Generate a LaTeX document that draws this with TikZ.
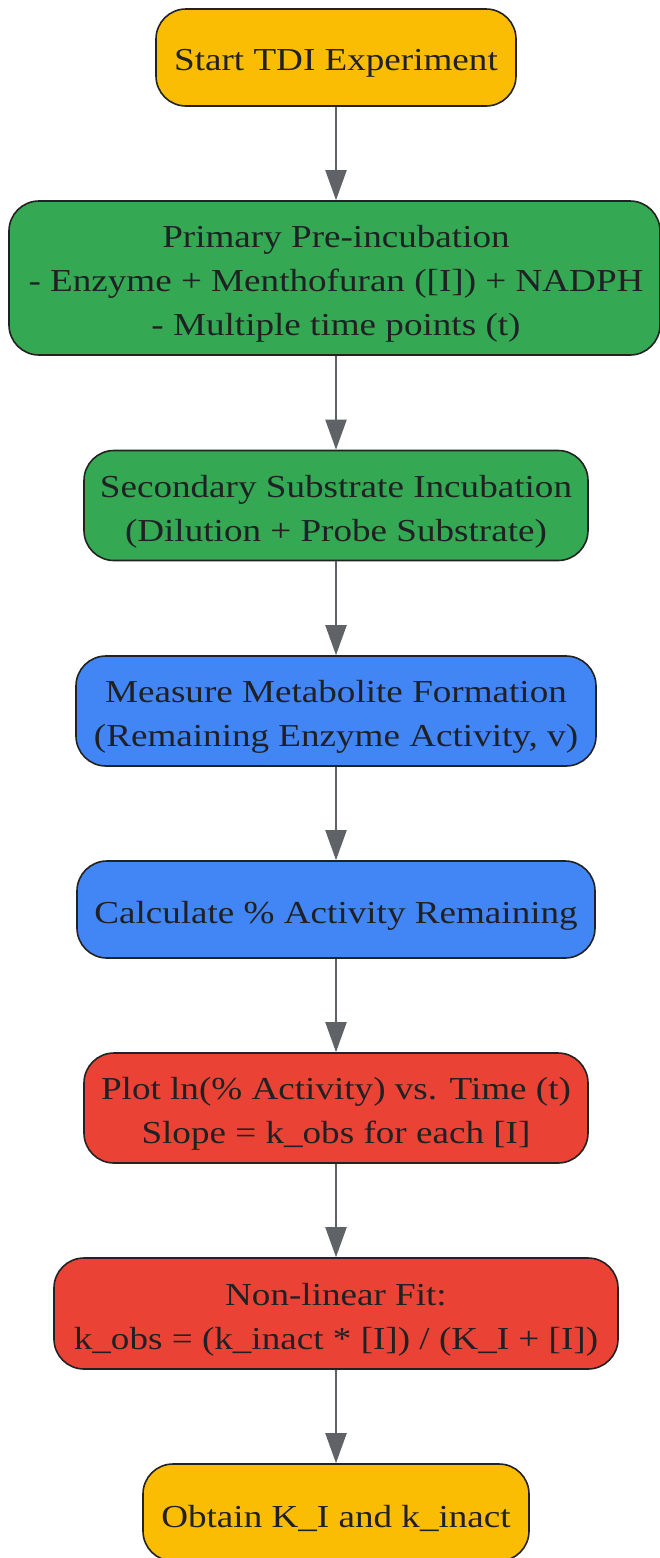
\documentclass[tikz,border=0pt]{standalone}
\usepackage{fontspec}
\setmainfont{Liberation Serif}[FakeStretch=1.16]
\usetikzlibrary{arrows.meta}
\definecolor{cOrange}{HTML}{FBBC04}
\definecolor{cGreen}{HTML}{34A853}
\definecolor{cBlue}{HTML}{4285F4}
\definecolor{cRed}{HTML}{EA4335}
\definecolor{cArrow}{HTML}{5F6368}
\definecolor{cText}{HTML}{202124}
\definecolor{cStroke}{HTML}{222222}
\begin{document}
\begin{tikzpicture}[x=1pt,y=-1pt,
  box/.style={draw=cStroke, line width=1.6pt, rounded corners=30pt, inner sep=0pt},
  txt/.style={inner sep=0pt, align=center, text=cText, font=\fontsize{32}{44}\selectfont},
  flow/.style={draw=cArrow, line width=2pt, -{Triangle[length=30pt,width=21pt]}}]
\useasboundingbox (0,0) rectangle (660,1558);
\node[box, fill=cOrange, minimum width=360pt, minimum height=97pt] (start) at (336,57.5) {};
\node[box, fill=cGreen, minimum width=651pt, minimum height=154pt] (prim) at (334.5,278) {};
\node[box, fill=cGreen, minimum width=504pt, minimum height=110pt] (sec) at (336,505.5) {};
\node[box, fill=cBlue, minimum width=520pt, minimum height=110pt] (meas) at (336,711) {};
\node[box, fill=cBlue, minimum width=518pt, minimum height=97pt] (calc) at (336,909.5) {};
\node[box, fill=cRed, minimum width=504pt, minimum height=110pt] (plot) at (336,1108) {};
\node[box, fill=cRed, minimum width=564pt, minimum height=111pt] (fit) at (336,1313.5) {};
\node[box, fill=cOrange, minimum width=386pt, minimum height=97pt] (obt) at (336,1512.5) {};
\node[txt] (startT) at ([yshift=-6pt]start.center) {Start TDI Experiment};
\node[txt] (primT) at ([yshift=-6pt]336,278) {Primary Pre-incubation\\- Enzyme + Menthofuran ([I]) + NADPH\\- Multiple time points (t)};
\node[txt] (secT) at ([yshift=-6pt]sec.center) {Secondary Substrate Incubation\\(Dilution + Probe Substrate)};
\node[txt] (measT) at ([yshift=-6pt]meas.center) {Measure Metabolite Formation\\(Remaining Enzyme Activity, v)};
\node[txt] (calcT) at ([yshift=-6pt]calc.center) {Calculate \% Activity Remaining};
\node[txt] (plotT) at ([yshift=-6pt]plot.center) {Plot ln(\% Activity) vs. Time (t)\\Slope = k\_obs for each [I]};
\node[txt] (fitT) at ([yshift=-6pt]fit.center) {Non-linear Fit:\\k\_obs = (k\_inact * [I]) / (K\_I + [I])};
\node[txt] (obtT) at ([yshift=-6pt]obt.center) {Obtain K\_I and k\_inact};
\draw[flow] (start.south -| 336,0) -- (prim.north -| 336,0);
\draw[flow] (prim.south -| 336,0) -- (sec.north);
\draw[flow] (sec) -- (meas);
\draw[flow] (meas) -- (calc);
\draw[flow] (calc) -- (plot);
\draw[flow] (plot) -- (fit);
\draw[flow] (fit) -- (obt);
\end{tikzpicture}
\end{document}
